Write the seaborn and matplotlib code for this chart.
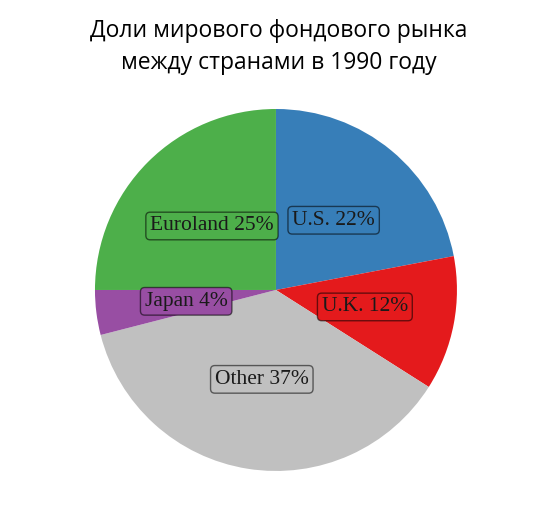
import matplotlib
matplotlib.use("Agg")
import matplotlib.pyplot as plt
import seaborn as sns

title_lines = ["Доли мирового фондового рынка", "между странами в 1990 году"]
countries = ["U.S.", "U.K.", "Other", "Japan", "Euroland"]
shares = [22, 12, 37, 4, 25]

sns.set_theme(style="white")
set1 = sns.color_palette("Set1")
colors = [set1[1], set1[0], "#c0c0c0", set1[3], set1[2]]

fig = plt.figure(figsize=(5.58, 5.24), dpi=100)
ax = fig.add_axes([0.4946 - 0.3244, 0.4466 - 0.3454, 0.6487, 0.6908])

labels = [f"{c} {v}%" for c, v in zip(countries, shares)]
wedges, texts = ax.pie(shares, colors=colors, startangle=90, counterclock=False,
                       labels=labels, labeldistance=0.5,
                       wedgeprops=dict(linewidth=0),
                       textprops=dict(family=["Liberation Serif", "DejaVu Serif"],
                                      fontsize=15.5, color="#1a1a1a",
                                      ha="center", va="center"))
for t, c in zip(texts, colors):
    t.set_ha("center")
    t.set_va("center")
    t.set_bbox(dict(boxstyle="round,pad=0.2", fc=c, ec=(0, 0, 0, 0.55), lw=1))
ax.set_xlim(-1, 1)
ax.set_ylim(-1, 1)
ax.set_aspect("equal")
ax.axis("off")

fig.text(0.5, 0.963, "\n".join(title_lines), ha="center", va="top",
         fontsize=16.5, color="black", family=["Open Sans", "DejaVu Sans"],
         linespacing=1.45)

fig.savefig("out.png", dpi=100, facecolor="white")
